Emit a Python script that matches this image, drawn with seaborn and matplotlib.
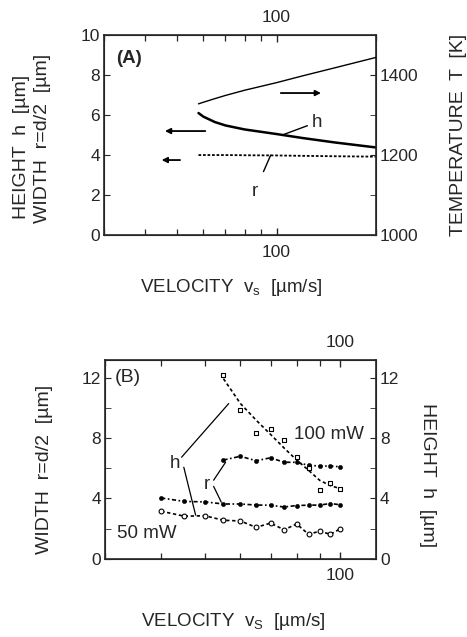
import numpy as np
import pandas as pd
import seaborn as sns
import matplotlib.pyplot as plt
from matplotlib.ticker import (LogLocator, NullFormatter, FixedLocator, FixedFormatter,
                               MultipleLocator)

sns.set_style("ticks")
plt.rcParams['font.family'] = ['Liberation Sans', 'DejaVu Sans']
plt.rcParams['mathtext.fontset'] = 'custom'
plt.rcParams['mathtext.rm'] = 'Liberation Sans'
plt.rcParams['mathtext.it'] = 'Liberation Sans'

# panel A: model curves
a_vel = [58, 60, 65, 70, 80, 100, 120, 150, 200]
a_temp = [1328, 1332, 1341, 1349, 1362, 1381, 1398, 1418, 1444]
a_height = [6.1, 5.92, 5.65, 5.48, 5.28, 5.05, 4.85, 4.63, 4.38]
a_width = [4.0, 4.0, 4.0, 4.0, 3.99, 3.98, 3.96, 3.94, 3.92]

# panel B: measurements, 50 mW and 100 mW
b_vel50 = [40, 45, 50, 55, 60, 65, 70, 75, 80, 85, 90, 95, 100]
b_r50 = [4.03, 3.8, 3.77, 3.63, 3.63, 3.56, 3.55, 3.43, 3.53, 3.55, 3.56, 3.66, 3.58]
b_h50 = [3.15, 2.82, 2.85, 2.55, 2.5, 2.08, 2.36, 1.92, 2.3, 1.62, 1.82, 1.62, 1.98]
b_vel100 = [55, 60, 65, 70, 75, 80, 85, 90, 95, 100]
b_r100 = [6.55, 6.8, 6.5, 6.7, 6.4, 6.4, 6.2, 6.15, 6.15, 6.1]
b_h100 = [12.2, 9.9, 8.35, 8.63, 7.86, 6.75, 6.05, 4.55, 5.05, 4.65]
b_h100_fit = [11.95, 10.3, 9.2, 8.25, 7.35, 6.55, 5.87, 5.2, 4.85, 4.65]

TICK = 12.5
LAB_H = 13.5
LAB_V = 14

fig = plt.figure(figsize=(4.67, 6.37), dpi=100)
axA = fig.add_axes([0.2227, 0.631, 0.5823, 0.314])
axB = fig.add_axes([0.2248, 0.123, 0.5802, 0.312])


def style_log_x(ax, lo, hi):
    ax.set_xscale('log')
    ax.set_xlim(lo, hi)
    ax.xaxis.set_major_locator(FixedLocator([100]))
    ax.xaxis.set_major_formatter(FixedFormatter(['100']))
    ax.xaxis.set_minor_locator(LogLocator(base=10, subs=np.arange(2, 10), numticks=20))
    ax.xaxis.set_minor_formatter(NullFormatter())
    ax.tick_params(axis='x', which='both', direction='in', top=True, labeltop=True,
                   bottom=True, labelbottom=True, labelsize=TICK, pad=7)
    ax.tick_params(axis='x', which='major', length=5, width=1.0)
    ax.tick_params(axis='x', which='minor', length=4, width=0.9)
    for s in ax.spines.values():
        s.set_linewidth(1.2)


# ---------- panel A ----------
sns.lineplot(x=a_vel, y=a_height, ax=axA, color='k', lw=1.8)
sns.lineplot(x=a_vel, y=a_width, ax=axA, color='k', lw=1.3, linestyle=(0, (1.5, 1)))
axA.set_ylim(0, 10)
axA.yaxis.set_major_locator(MultipleLocator(2))
axA.tick_params(axis='y', direction='in', labelsize=TICK, length=4, pad=3)

tA = axA.twinx()
sns.lineplot(x=a_vel, y=a_temp, ax=tA, color='k', lw=1.0)
tA.set_ylim(1000, 1500)
tA.yaxis.set_major_locator(FixedLocator([1000, 1200, 1400]))
tA.yaxis.set_minor_locator(FixedLocator([1100, 1300]))
tA.tick_params(axis='y', which='both', direction='in', labelsize=TICK, length=4, pad=3)
style_log_x(axA, 30, 200)

axA.annotate('', xy=(45, 5.2), xytext=(62, 5.2),
             arrowprops=dict(arrowstyle='-|>', color='k', lw=1.3, mutation_scale=8))
axA.annotate('', xy=(44, 3.75), xytext=(52, 3.75),
             arrowprops=dict(arrowstyle='-|>', color='k', lw=1.3, mutation_scale=8))
axA.annotate('', xy=(139, 7.1), xytext=(101, 7.1),
             arrowprops=dict(arrowstyle='-|>', color='k', lw=1.3, mutation_scale=8))
axA.annotate('h', xy=(104, 5.0), xytext=(128, 5.65), fontsize=13.5, va='center', ha='left',
             arrowprops=dict(arrowstyle='-', color='k', lw=1.0, shrinkA=1, shrinkB=0))
axA.annotate('r', xy=(96, 4.0), xytext=(86, 2.2), fontsize=13.5, va='center', ha='center',
             arrowprops=dict(arrowstyle='-', color='k', lw=1.0, shrinkA=6, shrinkB=0))
axA.text(0.045, 0.885, '(A)', transform=axA.transAxes, fontsize=13.5, fontweight='bold',
         va='center', ha='left')

fig.text(0.047, 0.77, 'HEIGHT  h  [µm]', rotation=90, fontsize=LAB_V, ha='center', va='center')
fig.text(0.09, 0.782, 'WIDTH  r=d/2  [µm]', rotation=90, fontsize=LAB_V, ha='center', va='center')
fig.text(0.981, 0.788, 'TEMPERATURE  T  [K]', rotation=90, fontsize=LAB_V, ha='center', va='center')
fig.text(0.495, 0.549, r'VELOCITY  v$_\mathregular{s}$  [µm/s]', fontsize=LAB_H,
         ha='center', va='center')

# ---------- panel B ----------
dash_h = (0, (2, 1.6))
dash_r = (0, (2.5, 1.5, 1, 1.5))
sns.lineplot(x=b_vel50, y=b_r50, ax=axB, color='k', lw=1.2, linestyle=dash_r)
sns.lineplot(x=b_vel50, y=b_h50, ax=axB, color='k', lw=1.2, linestyle=dash_h)
sns.lineplot(x=b_vel100, y=b_r100, ax=axB, color='k', lw=1.2, linestyle=dash_r)
sns.lineplot(x=b_vel100, y=b_h100_fit, ax=axB, color='k', lw=1.2, linestyle=dash_h)
sns.scatterplot(x=b_vel50, y=b_r50, ax=axB, color='k', marker='o', s=10, edgecolor='k', zorder=3)
sns.scatterplot(x=b_vel100, y=b_r100, ax=axB, color='k', marker='o', s=10, edgecolor='k', zorder=3)
sns.scatterplot(x=b_vel50, y=b_h50, ax=axB, facecolor='white', marker='o', s=12,
                edgecolor='k', linewidth=0.8, zorder=3)
sns.scatterplot(x=b_vel100, y=b_h100, ax=axB, facecolor='white', marker='s', s=12,
                edgecolor='k', linewidth=0.8, zorder=3)
axB.set_ylim(0, 13.2)
axB.yaxis.set_major_locator(FixedLocator([0, 4, 8, 12]))
axB.yaxis.set_minor_locator(FixedLocator([2, 6, 10]))
axB.tick_params(axis='y', which='both', direction='in', labelsize=TICK, length=4, pad=3)

tB = axB.twinx()
tB.set_ylim(0, 13.2)
tB.yaxis.set_major_locator(FixedLocator([0, 4, 8, 12]))
tB.yaxis.set_minor_locator(FixedLocator([2, 6, 10]))
tB.tick_params(axis='y', which='both', direction='in', labelsize=TICK, length=4, pad=3)
style_log_x(axB, 30, 120)

axB.text(0.035, 0.909, '(B)', transform=axB.transAxes, fontsize=14, va='center', ha='left')
axB.text(94.5, 8.24, '100 mW', fontsize=13.5, ha='center', va='center')
axB.text(37.2, 1.68, '50 mW', fontsize=13.5, ha='center', va='center')
axB.text(43.0, 6.3, 'h', fontsize=13.5, ha='center', va='center')
axB.plot([44.4, 56.5], [6.74, 10.3], color='k', lw=0.9)
axB.plot([44.9, 47.7], [6.07, 2.89], color='k', lw=0.9)
axB.text(50.5, 4.95, 'r', fontsize=13.5, ha='center', va='center')
axB.plot([52.3, 55.6], [5.21, 6.4], color='k', lw=0.9)
axB.plot([52.3, 54.4], [4.8, 3.75], color='k', lw=0.9)

fig.text(0.096, 0.263, 'WIDTH  r=d/2  [µm]', rotation=90, fontsize=LAB_V, ha='center', va='center')
fig.text(0.915, 0.255, 'HEIGHT  h  [µm]', rotation=270, fontsize=LAB_V, ha='center', va='center')
fig.text(0.5, 0.024, r'VELOCITY  v$_\mathregular{S}$  [µm/s]', fontsize=LAB_H,
         ha='center', va='center')

fig.canvas.draw()
fig.savefig('out.png', dpi=100, facecolor='white')
